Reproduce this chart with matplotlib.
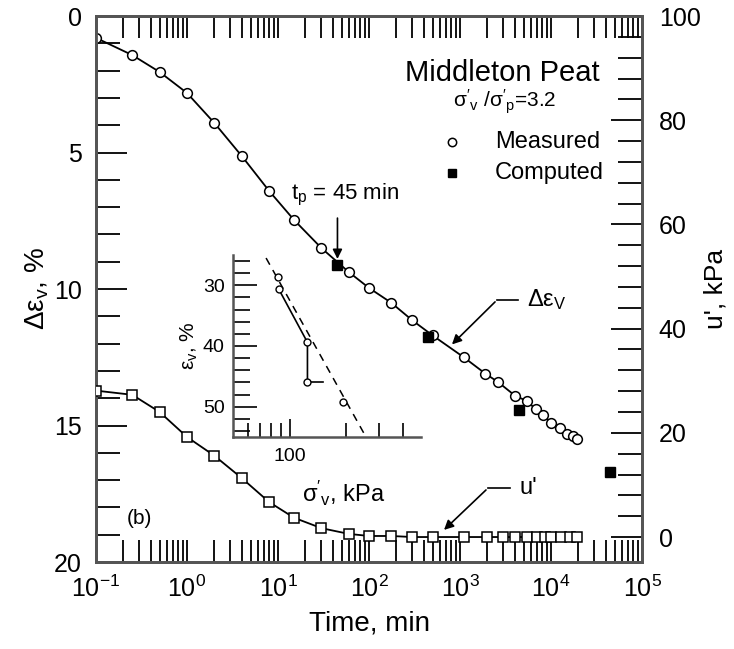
import matplotlib
matplotlib.use("Agg")
import matplotlib.pyplot as plt
import numpy as np

plt.rcParams['font.family'] = ['Liberation Sans', 'DejaVu Sans']
plt.rcParams['mathtext.fontset'] = 'custom'
plt.rcParams['mathtext.rm'] = 'Liberation Sans'
plt.rcParams['mathtext.it'] = 'Liberation Sans:italic'

# measured strain increment (%)
t_meas = [0.1, 0.25, 0.5, 1, 2, 4, 8, 15, 30, 60, 100, 175, 300, 500,
          1100, 1900, 2600, 4000, 5400, 6800, 8100, 10000, 12600, 15000,
          17300, 19500]
de_meas = [0.8, 1.43, 2.05, 2.82, 3.92, 5.13, 6.41, 7.47, 8.5, 9.38, 9.96,
           10.5, 11.15, 11.7, 12.5, 13.1, 13.4, 13.9, 14.1, 14.4, 14.6,
           14.9, 15.1, 15.3, 15.4, 15.5]

# computed
t_comp = [45, 450, 4500, 45000]
de_comp = [9.12, 11.76, 14.43, 16.7]

# excess pore pressure u' (kPa)
t_u = [0.1, 0.25, 0.5, 1, 2, 4, 8, 15, 30, 60, 100, 175, 300, 500, 1100,
       2000, 3000, 4000, 5400, 7000, 8500, 10000, 13000, 16000, 19500]
u_vals = [28.1, 27.3, 24.0, 19.2, 15.6, 11.3, 6.7, 3.7, 1.7, 0.6, 0.2, 0.2,
          0, 0, 0, 0, 0, 0, 0, 0, 0, 0, 0, 0, 0]

# inset: strain vs effective stress
ins_dash_s = [75, 255]
ins_dash_e = [25.5, 55.0]
ins_pts_s = [86.5, 87.5, 124.5, 124.5, 192]
ins_pts_e = [28.7, 30.6, 39.4, 46.0, 49.2]

fig = plt.figure(figsize=(7.34, 6.49), dpi=100)
ax = fig.add_axes([0.1308, 0.134, 0.7439, 0.8413])
ax2 = ax.twinx()

spc = '#555555'
for a in (ax, ax2):
    for s in a.spines.values():
        s.set_color(spc)
        s.set_linewidth(2)

ax.plot(t_meas, de_meas, '-', color='black', lw=1.3, zorder=2)
ax.plot(t_meas, de_meas, 'o', ms=7, mfc='white', mec='black', mew=1.1, zorder=3)
ax.plot(t_comp, de_comp, 's', ms=7, color='black', zorder=4)

ax2.plot(t_u, u_vals, '-', color='black', lw=1.3, zorder=2)
ax2.plot(t_u, u_vals, 's', ms=7, mfc='white', mec='black', mew=1.1, zorder=3)

ax.set_xscale('log')
ax.set_xlim(0.1, 1e5)
ax.set_ylim(20, 0)
ax2.set_ylim(-4.8, 100)
ax.set_yticks([0, 5, 10, 15, 20])
ax.set_yticks(np.arange(0, 21, 1), minor=True)
ax2.set_yticks([0, 20, 40, 60, 80, 100])
ax2.set_yticks(np.arange(0, 101, 4), minor=True)
ax.set_xticks([0.1, 1, 10, 100, 1000, 1e4, 1e5])

ax.tick_params(axis='x', which='both', direction='in', top=True, bottom=True,
               labelsize=18, pad=10, color='black', width=1.3)
ax.tick_params(axis='x', which='major', length=16)
ax.tick_params(axis='x', which='minor', length=16)
ax.tick_params(axis='y', which='both', direction='in', left=True, right=False,
               labelsize=18, pad=10, width=1.3)
ax.tick_params(axis='y', which='major', length=22)
ax.tick_params(axis='y', which='minor', length=17)
ax2.tick_params(axis='y', which='both', direction='in', labelsize=18, pad=12,
                width=1.3)
ax2.tick_params(axis='y', which='major', length=22)
ax2.tick_params(axis='y', which='minor', length=17)

ax.set_xlabel('Time, min', fontsize=20, labelpad=6)
ax.set_ylabel("Δε$_\\mathregular{v}$, %", fontsize=20, labelpad=2)
ax2.set_ylabel("u', kPa", fontsize=19, labelpad=2)

# legend block
ax.text(600 / 734, 1 - 73 / 649, 'Middleton Peat', transform=fig.transFigure,
        ha='right', va='center', fontsize=21)
ax.text(505 / 734, 1 - 102 / 649,
        r"$\mathregular{\sigma'_v\ /\sigma'_p}$=3.2",
        transform=fig.transFigure, ha='center', va='center', fontsize=15)
fig.lines.append(plt.Line2D([452 / 734], [1 - 142 / 649], marker='o', ms=6,
                            mfc='white', mec='black', mew=1.1,
                            transform=fig.transFigure))
fig.lines.append(plt.Line2D([452 / 734], [1 - 173 / 649], marker='s', ms=6,
                            color='black', transform=fig.transFigure))
ax.text(495 / 734, 1 - 142 / 649, 'Measured', transform=fig.transFigure,
        ha='left', va='center', fontsize=17)
ax.text(495 / 734, 1 - 173 / 649, 'Computed', transform=fig.transFigure,
        ha='left', va='center', fontsize=17)

# annotations
ax.annotate('', xy=(45, 9.0), xytext=(45, 7.3),
            arrowprops=dict(arrowstyle='-|>', color='black', lw=1.2,
                            mutation_scale=14))
ax.text(55, 6.55, r'$\mathregular{t_p}$ = 45 min', ha='center', va='center',
        fontsize=16)
ax.annotate('', xy=(776, 12.1), xytext=(2550, 10.4),
            arrowprops=dict(arrowstyle='-|>', color='black', lw=1.2,
                            mutation_scale=14))
ax.plot([2550, 4340], [10.4, 10.4], color='black', lw=1.2)
ax.text(5450, 10.4, "Δε$_\\mathregular{V}$", ha='left', va='center',
        fontsize=17)
ax2.annotate('', xy=(634, 1.0), xytext=(2030, 9.4),
             arrowprops=dict(arrowstyle='-|>', color='black', lw=1.2,
                             mutation_scale=14))
ax2.plot([2030, 3540], [9.4, 9.4], color='black', lw=1.2)
ax2.text(4560, 9.4, "u'", ha='left', va='center', fontsize=17)
ax.text(0.3, 18.4, '(b)', fontsize=15, ha='center', va='center')
ax.text(18.4, 17.47, r"$\mathregular{\sigma'_v}$, kPa", fontsize=17,
        ha='left', va='center')

# inset
ins = fig.add_axes([0.3174, 0.3267, 0.2561, 0.2804])
ins.set_xscale('log')
ins.set_xlim(50, 500)
ins.set_ylim(55, 25)
ins.plot(ins_dash_s, ins_dash_e, '--', color='black', lw=1.1, dashes=(5, 4))
ins.plot(ins_pts_s[1:4], ins_pts_e[1:4], '-', color='black', lw=1.2)
ins.plot([124.5, 150], [46.0, 46.0], '-', color='black', lw=1.2)
ins.plot(ins_pts_s, ins_pts_e, 'o', ms=5, mfc='white', mec='black', mew=1.0)
for k in ('top', 'right'):
    ins.spines[k].set_visible(False)
for k in ('left', 'bottom'):
    ins.spines[k].set_color(spc)
    ins.spines[k].set_linewidth(1.8)
ins.set_yticks([30, 40, 50])
ins.set_yticks(np.arange(26, 55, 2), minor=True)
ins.set_xticks([100])
ins.set_xticklabels(['100'])
ins.set_xticks([60, 70, 80, 90, 200, 300, 400], minor=True)
ins.xaxis.set_minor_formatter(matplotlib.ticker.NullFormatter())
ins.tick_params(axis='both', which='both', direction='in', labelsize=14,
                width=1.2)
ins.tick_params(axis='y', which='major', length=17, pad=6)
ins.tick_params(axis='y', which='minor', length=12)
ins.tick_params(axis='x', which='major', length=13, pad=8)
ins.tick_params(axis='x', which='minor', length=10)
ins.set_ylabel("ε$_\\mathregular{v}$, %", fontsize=15, labelpad=2)
ins.patch.set_alpha(0)

fig.savefig('out.png', dpi=100)
